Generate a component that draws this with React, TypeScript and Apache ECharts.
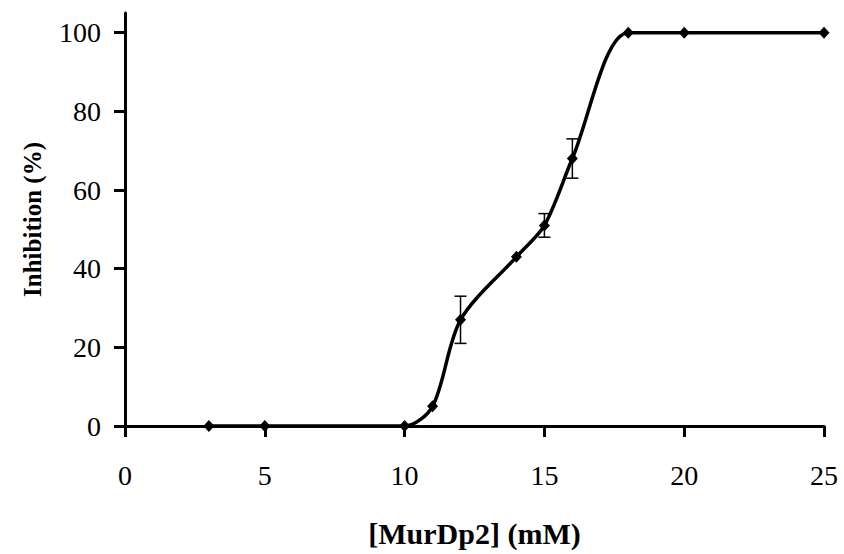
import React, { useEffect, useRef } from "react";
import * as echarts from "echarts";

const concentrations = [3, 5, 10, 11, 12, 14, 15, 16, 18, 20, 25];
const inhibition = [0, 0, 0, 5, 27, 43, 51, 68, 100, 100, 100];
const errX = [12, 15, 16];
const errLow = [21, 48, 63];
const errHigh = [33, 54, 73];
const xTicks = [0, 5, 10, 15, 20, 25];
const yTicks = [0, 20, 40, 60, 80, 100];

const FONT = "'Liberation Serif', 'Times New Roman', serif";

export default function App() {
  const ref = useRef<HTMLDivElement>(null);
  useEffect(() => {
    if (!ref.current) return;
    const chart = echarts.init(ref.current, null, { renderer: "svg" });
    const lineData = concentrations.map((x, i) => [x, inhibition[i]]);
    const errData = errX.map((x, i) => [x, errLow[i], errHigh[i]]);
    chart.setOption({
      animation: false,
      backgroundColor: "#ffffff",
      grid: { left: 125, right: 20, top: 13, bottom: 128, containLabel: false },
      xAxis: {
        type: "value",
        min: 0,
        max: 25,
        interval: 5,
        name: "[MurDp2] (mM)",
        nameLocation: "middle",
        nameGap: 92,
        nameTextStyle: { fontFamily: FONT, fontSize: 30, fontWeight: "bold", color: "#000" },
        axisLine: { show: true, lineStyle: { color: "#000", width: 3 } },
        axisTick: { show: true, length: 11, lineStyle: { color: "#000", width: 3 }, customValues: xTicks },
        axisLabel: { fontFamily: FONT, fontSize: 28, color: "#000", margin: 35, customValues: xTicks },
        splitLine: { show: false },
      },
      yAxis: {
        type: "value",
        min: 0,
        max: 105,
        name: "Inhibition (%)",
        nameLocation: "middle",
        nameGap: 80,
        nameTextStyle: { fontFamily: FONT, fontSize: 25, fontWeight: "bold", color: "#000" },
        axisLine: { show: true, lineStyle: { color: "#000", width: 3 } },
        axisTick: { show: true, length: 11, lineStyle: { color: "#000", width: 3 }, customValues: yTicks },
        axisLabel: { fontFamily: FONT, fontSize: 28, color: "#000", margin: 24, customValues: yTicks },
        splitLine: { show: false },
      },
      series: [
        {
          type: "line",
          data: lineData,
          smooth: 0.3,
          symbol: "diamond",
          symbolSize: [11, 12],
          showSymbol: true,
          lineStyle: { color: "#000", width: 3.5 },
          itemStyle: { color: "#000" },
          z: 3,
        },
        {
          type: "custom",
          data: errData,
          z: 2,
          renderItem: (params: any, api: any) => {
            const x = api.value(0);
            const lo = api.coord([x, api.value(1)]);
            const hi = api.coord([x, api.value(2)]);
            const cap = 6;
            const style = { stroke: "#000", lineWidth: 1.5 };
            return {
              type: "group",
              children: [
                { type: "line", shape: { x1: lo[0], y1: lo[1], x2: hi[0], y2: hi[1] }, style },
                { type: "line", shape: { x1: lo[0] - cap, y1: lo[1], x2: lo[0] + cap, y2: lo[1] }, style },
                { type: "line", shape: { x1: hi[0] - cap, y1: hi[1], x2: hi[0] + cap, y2: hi[1] }, style },
              ],
            };
          },
        },
      ],
    });
    return () => chart.dispose();
  }, []);
  return <div ref={ref} style={{ width: 844, height: 554, position: "absolute", left: 0, top: 0 }} />;
}
